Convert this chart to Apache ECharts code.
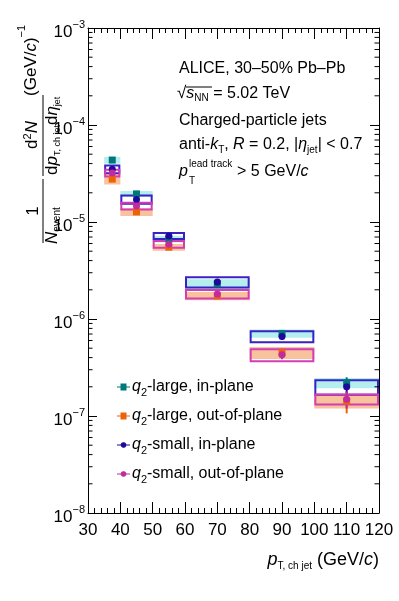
<!DOCTYPE html>
<html>
<head>
<meta charset="utf-8">
<script src="https://cdn.jsdelivr.net/npm/echarts@6/dist/echarts.min.js"></script>
<style>
  html, body { margin: 0; padding: 0; background: #fff; }
  #chart { width: 399px; height: 601px; }
</style>
</head>
<body>
<div id="chart"></div>
<script>
// bins in pT (GeV/c)
const binLo = [35, 40, 50, 60, 80, 100]
const binHi = [40, 50, 60, 80, 100, 120]
const binMid = [37.5, 45, 55, 70, 90, 110]

// yields
const largeIn = [4.35e-5, 1.95e-5, 6.7e-6, 2.3e-6, 7.1e-7, 2.2e-7]
const largeOut = [2.77e-5, 1.27e-5, 5.5e-6, 1.73e-6, 4.5e-7, 1.42e-7]
const smallIn = [3.5e-5, 1.71e-5, 7.18e-6, 2.4e-6, 6.6e-7, 2.0e-7]
const smallOut = [3.2e-5, 1.46e-5, 5.9e-6, 1.81e-6, 4.27e-7, 1.49e-7]

// relative systematic (boxes)
const largeInSys = [0.08, 0.07, 0.08, 0.12, 0.10, 0.12]
const largeOutSys = [0.12, 0.09, 0.08, 0.10, 0.14, 0.16]
const smallInSys = [0.09, 0.10, 0.07, 0.12, 0.13, 0.17]
const smallOutSys = [0.08, 0.08, 0.08, 0.10, 0.14, 0.12]

// relative statistical (bars)
const largeInStat = [0.02, 0.03, 0.04, 0.05, 0.08, 0.14]
const largeOutStat = [0.02, 0.03, 0.04, 0.05, 0.10, 0.25]
const smallInStat = [0.02, 0.03, 0.04, 0.05, 0.08, 0.14]
const smallOutStat = [0.02, 0.03, 0.04, 0.05, 0.10, 0.20]

const names = ['q2-large, in-plane', 'q2-large, out-of-plane', 'q2-small, in-plane', 'q2-small, out-of-plane']

const FONT = 'Liberation Sans, Arial, Helvetica, sans-serif'
const C = {
  tealM: '#00777a', tealF: '#b2efee',
  orangeM: '#ee6207', orangeF: '#f8c29d',
  navyM: '#1d0a9c', navyB: '#3a22c2',
  magM: '#c22ba0', magB: '#d43cb4',
}

function boxSeries(name, vals, sys, fill, stroke, z) {
  return {
    name: name + ' sys',
    type: 'custom',
    z: z,
    silent: true,
    data: vals.map((v, i) => [binLo[i], binHi[i], v * (1 - sys[i]), v * (1 + sys[i])]),
    renderItem: (params, api) => {
      const a = api.coord([api.value(0), api.value(3)])
      const b = api.coord([api.value(1), api.value(2)])
      return {
        type: 'rect',
        shape: { x: a[0] + (stroke ? 1 : 0), y: a[1], width: b[0] - a[0] - (stroke ? 2 : 0), height: b[1] - a[1] },
        style: stroke ? { fill: 'none', stroke: stroke, lineWidth: 2 } : { fill: fill }
      }
    }
  }
}

function statSeries(name, vals, stat, color) {
  return {
    name: name + ' stat',
    type: 'custom',
    z: 3,
    silent: true,
    data: vals.map((v, i) => [binMid[i], v * (1 - stat[i]), v * (1 + stat[i])]),
    renderItem: (params, api) => {
      const a = api.coord([api.value(0), api.value(1)])
      const b = api.coord([api.value(0), api.value(2)])
      return {
        type: 'line',
        shape: { x1: a[0], y1: a[1], x2: b[0], y2: b[1] },
        style: { stroke: color, lineWidth: 2 }
      }
    }
  }
}

function pointSeries(name, vals, symbol, color) {
  return {
    name: name,
    type: 'scatter',
    z: 4,
    symbol: symbol,
    symbolSize: 7,
    itemStyle: { color: color, opacity: 1 },
    data: vals.map((v, i) => [binMid[i], v])
  }
}

// minor log ticks (2..9 per decade) on both vertical frame sides
const minorY = []
for (let e = -8; e < -3; e++) {
  for (let k = 2; k <= 9; k++) minorY.push([30, k * Math.pow(10, e)])
}

const sqIcon = 'path://M0,3H3.5V0H9.5V3H13V4H9.5V7H3.5V4H0Z'
const ciIcon = 'path://M0,3H3.6A3,3 0 0 1 9.4,3H13V4H9.4A3,3 0 0 1 3.6,4H0Z'

const chart = echarts.init(document.querySelector('#chart'))
const axisCommon = {
  axisLine: { show: true, lineStyle: { color: '#000', width: 1 } },
  splitLine: { show: false },
}
const option = {
  animation: false,
  backgroundColor: '#fff',
  grid: { left: 88, right: 20, top: 28, bottom: 88 },
  xAxis: [
    {
      ...axisCommon,
      type: 'value', min: 30, max: 120, interval: 10,
      axisTick: { inside: true, length: 11, lineStyle: { color: '#000' } },
      minorTick: { show: true, splitNumber: 5, length: 5, lineStyle: { color: '#000' } },
      axisLabel: { color: '#000', fontSize: 17, fontFamily: FONT, margin: 9 },
    },
    {
      ...axisCommon,
      type: 'value', position: 'top', min: 30, max: 120, interval: 10,
      axisTick: { inside: true, length: 11, lineStyle: { color: '#000' } },
      minorTick: { show: true, splitNumber: 5, length: 5, lineStyle: { color: '#000' } },
      axisLabel: { show: false },
    }
  ],
  yAxis: [
    {
      ...axisCommon,
      type: 'log', logBase: 10, min: 1e-8, max: 1e-3,
      axisTick: { inside: true, length: 9, lineStyle: { color: '#000' } },
      axisLabel: {
        margin: 3,
        formatter: v => '{b|10}{e|−' + Math.round(-Math.log10(v)) + '}',
        rich: {
          b: { fontSize: 17, fontFamily: FONT, color: '#000', padding: [8, 0, 0, 0] },
          e: { fontSize: 11, fontFamily: FONT, color: '#000', padding: [0, 0, 6, 0] },
        }
      },
    },
    {
      ...axisCommon,
      type: 'log', logBase: 10, min: 1e-8, max: 1e-3, position: 'right',
      axisTick: { inside: true, length: 9, lineStyle: { color: '#000' } },
      axisLabel: { show: false },
    }
  ],
  legend: {
    orient: 'vertical',
    left: 112, top: 374,
    itemWidth: 13, itemHeight: 7, itemGap: 10,
    selectedMode: false,
    data: [
      { name: names[0], icon: sqIcon },
      { name: names[1], icon: sqIcon },
      { name: names[2], icon: ciIcon },
      { name: names[3], icon: ciIcon },
    ],
    formatter: n => '{q|q}{s|2}{t|' + n.slice(2) + '}',
    textStyle: {
      fontFamily: FONT, fontSize: 16, color: '#000', padding: [0, 0, 0, -3],
      rich: {
        q: { fontFamily: FONT, fontSize: 16, fontStyle: 'italic', color: '#000' },
        s: { fontFamily: FONT, fontSize: 11, color: '#000', padding: [11, 0, 0, 0] },
        t: { fontFamily: FONT, fontSize: 16, color: '#000' },
      }
    }
  },
  series: [
    {
      type: 'custom', silent: true, z: 5,
      data: minorY,
      renderItem: (params, api) => {
        const l = api.coord([30, api.value(1)])
        const r = api.coord([120, api.value(1)])
        return {
          type: 'group',
          children: [
            { type: 'line', shape: { x1: l[0], y1: l[1], x2: l[0] + 4.5, y2: l[1] }, style: { stroke: '#000', lineWidth: 1 } },
            { type: 'line', shape: { x1: r[0], y1: r[1], x2: r[0] - 4.5, y2: r[1] }, style: { stroke: '#000', lineWidth: 1 } },
          ]
        }
      }
    },
    boxSeries(names[0], largeIn, largeInSys, C.tealF, null, 1),
    boxSeries(names[1], largeOut, largeOutSys, C.orangeF, null, 1),
    boxSeries(names[2], smallIn, smallInSys, null, C.navyB, 2),
    boxSeries(names[3], smallOut, smallOutSys, null, C.magB, 2),
    statSeries(names[0], largeIn, largeInStat, C.tealM),
    statSeries(names[1], largeOut, largeOutStat, C.orangeM),
    statSeries(names[2], smallIn, smallInStat, C.navyM),
    statSeries(names[3], smallOut, smallOutStat, C.magM),
    pointSeries(names[0], largeIn, 'rect', C.tealM),
    pointSeries(names[1], largeOut, 'rect', C.orangeM),
    pointSeries(names[2], smallIn, 'circle', C.navyM),
    pointSeries(names[3], smallOut, 'circle', C.magM),
  ],
  graphic: [
    // info block
    { type: 'text', left: 179, top: 61, style: { text: 'ALICE, 30–50% Pb–Pb', font: '16px ' + FONT, fill: '#000' } },
    {
      type: 'text', left: 177, top: 85,
      style: {
        text: '{r|√}{i|s}{s|NN}{t| = 5.02 TeV}', fill: '#000', font: '16px ' + FONT,
        rich: {
          r: { font: '17px ' + FONT },
          i: { font: 'italic 16px ' + FONT },
          s: { font: '10px ' + FONT, padding: [9, 0, 0, 0] },
          t: { font: '16px ' + FONT },
        }
      }
    },
    { type: 'line', shape: { x1: 186, y1: 87, x2: 212, y2: 87 }, style: { stroke: '#000', lineWidth: 1 } },
    { type: 'text', left: 179, top: 113, style: { text: 'Charged-particle jets', font: '16px ' + FONT, fill: '#000' } },
    {
      type: 'text', left: 179, top: 137,
      style: {
        text: '{t|anti-}{i|k}{s|T}{t|, }{i|R}{t| = 0.2, |}{i|η}{s|jet}{t|| < 0.7}', fill: '#000', font: '16px ' + FONT,
        rich: {
          i: { font: 'italic 16px ' + FONT },
          s: { font: '10px ' + FONT, padding: [10, 0, 0, 0] },
          t: { font: '16px ' + FONT },
        }
      }
    },
    { type: 'text', left: 179, top: 164, style: { text: 'p', font: 'italic 16px ' + FONT, fill: '#000' } },
    { type: 'text', left: 189, top: 159, style: { text: 'lead track', font: '10px ' + FONT, fill: '#000' } },
    { type: 'text', left: 189, top: 176, style: { text: 'T', font: '10px ' + FONT, fill: '#000' } },
    {
      type: 'text', left: 237, top: 164,
      style: {
        text: '{t|> 5 GeV/}{i|c}', fill: '#000', font: '16px ' + FONT,
        rich: { t: { font: '16px ' + FONT }, i: { font: 'italic 16px ' + FONT } }
      }
    },
    // x axis title
    {
      type: 'text', right: 20, top: 551,
      style: {
        text: '{i|p}{s|T, ch jet} {t|(GeV/}{i|c}{t|)}', fill: '#000', font: '18px ' + FONT,
        rich: {
          i: { font: 'italic 18px ' + FONT },
          s: { font: '10px ' + FONT, padding: [12, 0, 0, 0] },
          t: { font: '18px ' + FONT },
        }
      }
    },
    // y axis title, rotated
    {
      type: 'group', x: -1, y: 245, rotation: Math.PI / 2,
      children: [
        { type: 'text', x: 34, y: 34, style: { text: '1', font: '17px ' + FONT, fill: '#000', align: 'center', verticalAlign: 'middle' } },
        { type: 'line', shape: { x1: 2, y1: 44, x2: 66, y2: 44 }, style: { stroke: '#000', lineWidth: 1 } },
        {
          type: 'text', x: 1, y: 53,
          style: {
            text: '{n|N}{s|event}', fill: '#000', verticalAlign: 'middle',
            rich: { n: { font: 'italic 17px ' + FONT }, s: { font: '10px ' + FONT, padding: [10, 0, 0, 0] } }
          }
        },
        {
          type: 'text', x: 110, y: 33,
          style: {
            text: '{t|d}{p|2}{n|N}', fill: '#000', align: 'center', verticalAlign: 'middle',
            rich: { t: { font: '17px ' + FONT }, p: { font: '11px ' + FONT, padding: [0, 0, 9, 0] }, n: { font: 'italic 17px ' + FONT } }
          }
        },
        { type: 'line', shape: { x1: 69, y1: 44, x2: 150, y2: 44 }, style: { stroke: '#000', lineWidth: 1 } },
        {
          type: 'text', x: 70, y: 53,
          style: {
            text: '{t|d}{i|p}{s|T, ch jet}{t|d}{i|η}{s|jet}', fill: '#000', verticalAlign: 'middle',
            rich: {
              t: { font: '17px ' + FONT }, i: { font: 'italic 17px ' + FONT },
              s: { font: '9px ' + FONT, padding: [11, 0, 0, 0] }
            }
          }
        },
        {
          type: 'text', x: 149, y: 32,
          style: {
            text: '{t|(GeV/}{i|c}{t|)}{p|−1}', fill: '#000', verticalAlign: 'middle',
            rich: {
              t: { font: '17px ' + FONT }, i: { font: 'italic 17px ' + FONT },
              p: { font: '11px ' + FONT, padding: [0, 0, 18, 0] }
            }
          }
        },
      ]
    }
  ]
}
chart.setOption(option)
</script>
</body>
</html>
